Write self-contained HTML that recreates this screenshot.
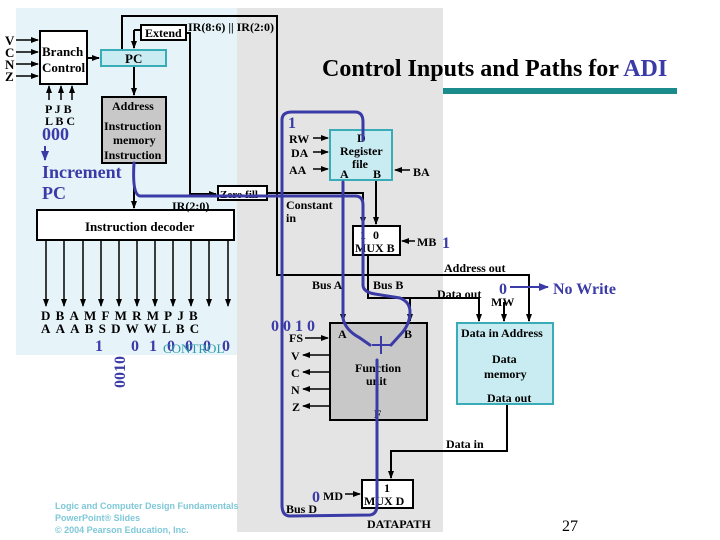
<!DOCTYPE html>
<html><head><meta charset="utf-8"><style>
html,body{margin:0;padding:0;background:#fff;}
svg{display:block;}
text{font-family:"Liberation Serif",serif;font-weight:bold;font-size:12px;fill:#000;}
.b{fill:#3b3ba8;}
.d{fill:#3b3ba8;font-size:16px;}
</style></head><body>
<svg width="720" height="540" viewBox="0 0 720 540" xmlns="http://www.w3.org/2000/svg">
<defs>
<marker id="a" markerUnits="userSpaceOnUse" markerWidth="8" markerHeight="8" refX="7" refY="4" orient="auto"><path d="M0,1 L8,4 L0,7z" fill="#000"/></marker>
<marker id="ab" markerUnits="userSpaceOnUse" markerWidth="10" markerHeight="10" refX="9" refY="5" orient="auto"><path d="M0,1 L10,5 L0,9z" fill="#3b3ba8"/></marker>
</defs>
<rect x="16" y="8" width="221" height="347" fill="#e6f4fa"/>
<rect x="237" y="8" width="206" height="524" fill="#e4e4e4"/>
<rect x="443" y="88" width="234" height="6" fill="#1a8c8c"/>
<text x="322" y="76" style="font-size:24px">Control Inputs and Paths for <tspan class="b">ADI</tspan></text>

<g stroke="#000" stroke-width="2" fill="none">
<polyline points="122,50 122,16 277,16 277,275 529,275 529,321" marker-end="url(#a)"/>
<polyline points="186,33 190,33 190,194 216,194" marker-end="url(#a)"/>
<line x1="134" y1="30" x2="141" y2="30"/>
<polyline points="134,30 134,48" marker-end="url(#a)"/>
<line x1="87" y1="58" x2="99" y2="58" marker-end="url(#a)"/>
<line x1="134" y1="66" x2="134" y2="95" marker-end="url(#a)"/>
<line x1="134" y1="163" x2="134" y2="208" marker-end="url(#a)"/>
<line x1="376" y1="180" x2="376" y2="224" marker-end="url(#a)"/>
<polyline points="267,193 363,193 363,224" marker-end="url(#a)"/>
<polyline points="368,255 368,298 410,298 410,321" marker-end="url(#a)"/>
<polyline points="410,298 479,298 479,321" marker-end="url(#a)"/>
<line x1="504" y1="302" x2="504" y2="321" marker-end="url(#a)"/>
<line x1="343" y1="180" x2="343" y2="321" marker-end="url(#a)"/>
<polyline points="507,404 507,451 391,451 391,478" marker-end="url(#a)"/>
</g>
<g stroke="#000" stroke-width="1.5" fill="none">
<line x1="16" y1="40" x2="38" y2="40" marker-end="url(#a)"/>
<line x1="16" y1="52" x2="38" y2="52" marker-end="url(#a)"/>
<line x1="16" y1="64" x2="38" y2="64" marker-end="url(#a)"/>
<line x1="16" y1="76" x2="38" y2="76" marker-end="url(#a)"/>
<line x1="49" y1="100" x2="49" y2="86" marker-end="url(#a)"/>
<line x1="61" y1="100" x2="61" y2="86" marker-end="url(#a)"/>
<line x1="72" y1="100" x2="72" y2="86" marker-end="url(#a)"/>
<line x1="313" y1="138" x2="328" y2="138" marker-end="url(#a)"/>
<line x1="313" y1="152" x2="328" y2="152" marker-end="url(#a)"/>
<line x1="313" y1="169" x2="328" y2="169" marker-end="url(#a)"/>
<line x1="410" y1="170" x2="395" y2="170" marker-end="url(#a)"/>
<line x1="415" y1="241" x2="402" y2="241" marker-end="url(#a)"/>
<line x1="305" y1="338" x2="328" y2="338" marker-end="url(#a)"/>
<line x1="330" y1="355" x2="303" y2="355" marker-end="url(#a)"/>
<line x1="330" y1="372" x2="303" y2="372" marker-end="url(#a)"/>
<line x1="330" y1="389" x2="303" y2="389" marker-end="url(#a)"/>
<line x1="330" y1="406" x2="303" y2="406" marker-end="url(#a)"/>
<line x1="345" y1="494" x2="360" y2="494" marker-end="url(#a)"/>
<g marker-end="url(#a)">
<line x1="46" y1="240" x2="46" y2="306"/><line x1="64" y1="240" x2="64" y2="306"/><line x1="83" y1="240" x2="83" y2="306"/><line x1="101" y1="240" x2="101" y2="306"/><line x1="119" y1="240" x2="119" y2="306"/><line x1="137" y1="240" x2="137" y2="306"/><line x1="155" y1="240" x2="155" y2="306"/><line x1="173" y1="240" x2="173" y2="306"/><line x1="191" y1="240" x2="191" y2="306"/><line x1="209" y1="240" x2="209" y2="306"/><line x1="228" y1="240" x2="228" y2="306"/>
</g>
</g>

<rect x="40" y="31" width="47" height="53" fill="#fff" stroke="#000" stroke-width="2"/>
<rect x="101" y="50" width="65" height="16" fill="#c8ecf2" stroke="#3aacb8" stroke-width="2"/>
<rect x="141" y="25" width="45" height="15" fill="#fff" stroke="#000" stroke-width="2"/>
<rect x="102" y="97" width="64" height="66" fill="#c8c8c8" stroke="#000" stroke-width="2"/>
<rect x="218" y="186" width="49" height="14" fill="#fff" stroke="#000" stroke-width="2"/>
<rect x="37" y="210" width="197" height="30" fill="#fff" stroke="#000" stroke-width="2"/>
<rect x="330" y="130" width="62" height="50" fill="#c8ecf2" stroke="#3aacb8" stroke-width="2"/>
<rect x="353" y="226" width="47" height="29" fill="#fff" stroke="#000" stroke-width="2"/>
<rect x="330" y="323" width="97" height="97" fill="#c8c8c8" stroke="#000" stroke-width="2"/>
<rect x="457" y="323" width="96" height="81" fill="#c8ecf2" stroke="#3aacb8" stroke-width="2"/>
<rect x="362" y="480" width="51" height="28" fill="#fff" stroke="#000" stroke-width="2"/>

<g style="font-size:13px">
<text x="5" y="45" style="font-size:13px">V</text><text x="5" y="57" style="font-size:13px">C</text><text x="5" y="69" style="font-size:13px">N</text><text x="5" y="81" style="font-size:13px">Z</text>
</g>
<text x="42" y="56" style="font-size:13px">Branch</text><text x="42" y="72" style="font-size:13px">Control</text>
<text x="125" y="63" style="font-size:13px">PC</text>
<text x="145" y="37">Extend</text>
<text x="188" y="31">IR(8:6) || IR(2:0)</text>
<text x="112" y="110">Address</text>
<text x="104" y="130">Instruction</text>
<text x="113" y="144">memory</text>
<text x="104" y="159">Instruction</text>
<text x="45" y="113">P J B</text><text x="45" y="125">L B C</text>
<text x="42" y="140" class="d" style="font-size:18px">000</text>
<text x="42" y="178" class="d" style="font-size:18px">Increment</text>
<text x="42" y="199" class="d" style="font-size:18px">PC</text>
<text x="172" y="210">IR(2:0)</text>
<text x="220" y="198" style="font-size:11px">Zero fill</text>
<text x="85" y="231" style="font-size:13px">Instruction decoder</text>
<text x="41" y="320" style="letter-spacing:5.2px;font-size:13px">DBAMFMRMPJB</text>
<text x="41" y="333" style="letter-spacing:5.2px;font-size:13px">AAABSDWWLBC</text>
<text x="95" y="351" class="d">1</text><text x="131" y="351" class="d">0</text><text x="149" y="351" class="d">1</text><text x="167" y="351" class="d">0</text><text x="185" y="351" class="d">0</text><text x="203" y="351" class="d">0</text><text x="222" y="351" class="d">0</text>
<text x="0" y="0" class="d" transform="translate(125,388) rotate(-90)">0010</text>
<text x="163" y="353" style="fill:#2a9aa8;font-weight:normal;font-size:13px">CONTROL</text>

<text x="288" y="128" class="d">1</text>
<text x="289" y="143">RW</text><text x="291" y="157">DA</text><text x="289" y="174">AA</text>
<text x="357" y="142">D</text><text x="340" y="155">Register</text><text x="352" y="168">file</text>
<text x="340" y="178">A</text><text x="373" y="178">B</text>
<text x="413" y="176">BA</text>
<text x="286" y="209">Constant</text><text x="286" y="222">in</text>
<text x="360" y="239">1</text><text x="373" y="239">0</text>
<text x="355" y="252">MUX B</text>
<text x="417" y="246">MB</text><text x="442" y="248" class="d">1</text>
<text x="444" y="272">Address out</text>
<text x="312" y="289">Bus A</text><text x="373" y="289">Bus B</text>
<text x="437" y="298">Data out</text>
<text x="499" y="294" class="d">0</text>
<line x1="510" y1="287" x2="548" y2="287" stroke="#3b3ba8" stroke-width="2" marker-end="url(#ab)"/>
<text x="553" y="294" class="d">No Write</text>
<text x="491" y="306">MW</text>
<text x="271" y="331" class="d">0 0 1 0</text>
<text x="289" y="342">FS</text><text x="291" y="360">V</text><text x="291" y="377">C</text><text x="291" y="394">N</text><text x="292" y="411">Z</text>
<text x="338" y="338">A</text><text x="404" y="338">B</text>
<text x="355" y="372">Function</text><text x="366" y="385">unit</text>
<text x="374" y="418">F</text>
<text x="461" y="337">Data in Address</text>
<text x="492" y="363">Data</text><text x="484" y="378">memory</text>
<text x="487" y="402">Data out</text>
<text x="446" y="448">Data in</text>
<text x="384" y="492">1</text><text x="364" y="505">MUX D</text>
<text x="312" y="502" class="d">0</text><text x="323" y="500">MD</text>
<text x="286" y="513">Bus D</text>
<text x="367" y="528">DATAPATH</text>
<text x="562" y="531" style="font-weight:normal;font-size:16px">27</text>
<text x="55" y="509" style="fill:#7ec8d8;font-family:'Liberation Sans',sans-serif;font-size:9px">Logic and Computer Design Fundamentals</text>
<text x="55" y="521" style="fill:#7ec8d8;font-family:'Liberation Sans',sans-serif;font-size:9px">PowerPoint® Slides</text>
<text x="55" y="533" style="fill:#7ec8d8;font-family:'Liberation Sans',sans-serif;font-size:9px">© 2004 Pearson Education, Inc.</text>

<g stroke="#3b3ba8" stroke-width="3" fill="none" stroke-linecap="round">
<path d="M134,163 Q132,195 140,196 L355,196 Q363,196 363,205 L363,285 Q363,292 375,294 L400,298 Q410,302 410,312 Q410,325 400,335 L391,345"/>
<path d="M343,182 L343,318 Q345,330 360,338 L370,345"/>
<path d="M377,360 L377,505 Q377,514 370,515 L290,516 Q282,516 282,505 L282,120 Q282,112 292,112 L355,112 Q363,112 363,122 L363,140"/>
</g>
<line x1="45" y1="146" x2="45" y2="160" stroke="#3b3ba8" stroke-width="2" marker-end="url(#ab)"/>
<g stroke="#3b3ba8" stroke-width="2">
<line x1="381" y1="336" x2="381" y2="354"/><line x1="372" y1="345" x2="390" y2="345"/>
</g>
</svg>
</body></html>
